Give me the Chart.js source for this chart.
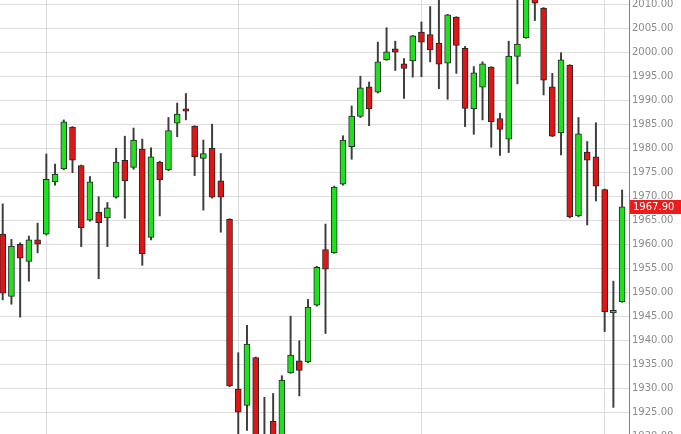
<!DOCTYPE html>
<html>
<head>
<meta charset="utf-8">
<script src="https://cdn.jsdelivr.net/npm/chart.js@4/dist/chart.umd.min.js"></script>
<style>
  html, body { margin: 0; padding: 0; background: #fff; }
  #wrap { width: 681px; height: 434px; }
</style>
</head>
<body>
<div id="wrap"><canvas id="myChart" width="681" height="434"></canvas></div>
<script>
// daily candles, left to right
var opens  = [1962.2, 1949.2, 1960.1, 1956.5, 1961.0, 1962.2, 1973.1, 1975.8, 1984.5, 1976.5,
              1965.1, 1966.8, 1965.6, 1969.9, 1977.6, 1976.1, 1979.9, 1961.5, 1977.2, 1975.6,
              1985.3, 1988.3, 1984.7, 1978.0, 1980.1, 1973.3, 1965.3, 1929.9, 1926.5, 1936.5,
              1918.5, 1923.2, 1918.0, 1933.3, 1935.8, 1935.6, 1947.4, 1959.0, 1958.3, 1972.6,
              1980.4, 1986.7, 1992.9, 1991.8, 1998.5, 2000.8, 1997.7, 1998.3, 2004.3, 2003.8,
              2002.0, 1997.8, 2007.4, 2000.9, 1988.3, 1992.8, 1997.0, 1986.3, 1982.0, 1999.2,
              2003.1, 2012.0, 2009.3, 1992.9, 1983.3, 1997.4, 1966.0, 1979.3, 1978.3, 1971.5,
              1945.8, 1948.1];
var highs  = [1968.5, 1961.1, 1960.4, 1961.8, 1964.5, 1978.9, 1976.8, 1986.0, 1984.6, 1976.6,
              1974.2, 1970.0, 1968.8, 1980.1, 1982.6, 1984.3, 1982.0, 1980.2, 1977.4, 1986.5,
              1989.5, 1991.5, 1984.8, 1981.8, 1985.1, 1979.0, 1965.4, 1937.5, 1943.2, 1936.6,
              1928.2, 1929.0, 1932.7, 1945.1, 1940.0, 1948.6, 1955.5, 1964.3, 1972.2, 1982.7,
              1988.9, 1995.1, 1993.9, 2002.2, 2005.2, 2002.4, 1998.8, 2003.6, 2006.4, 2009.6,
              2012.0, 2008.0, 2007.5, 2001.3, 1997.1, 1998.1, 1997.1, 1987.4, 2002.4, 2011.5,
              2014.0, 2013.0, 2009.4, 1995.7, 2000.0, 1997.5, 1986.5, 1981.5, 1985.4, 1971.6,
              1952.4, 1971.4];
var lows   = [1948.5, 1947.6, 1944.9, 1952.4, 1958.3, 1962.0, 1972.4, 1975.6, 1975.0, 1959.6,
              1964.9, 1952.9, 1959.6, 1969.7, 1965.5, 1975.7, 1955.7, 1961.0, 1966.0, 1975.4,
              1982.5, 1986.0, 1974.4, 1967.2, 1969.7, 1962.6, 1930.4, 1918.0, 1921.3, 1915.0,
              1914.0, 1916.0, 1916.0, 1933.2, 1928.5, 1935.4, 1947.2, 1941.5, 1958.2, 1972.4,
              1977.8, 1986.5, 1984.8, 1991.6, 1998.4, 1996.3, 1990.5, 1994.9, 1995.0, 1998.1,
              1992.5, 1990.3, 1995.7, 1984.6, 1983.0, 1986.0, 1980.3, 1978.6, 1979.2, 1993.5,
              2003.0, 2006.7, 1991.2, 1982.5, 1978.7, 1965.6, 1965.8, 1964.1, 1969.1, 1941.9,
              1926.1, 1948.0];
var closes = [1949.9, 1959.7, 1957.2, 1961.0, 1960.1, 1973.6, 1974.7, 1985.6, 1977.6, 1963.5,
              1973.1, 1964.6, 1967.7, 1977.2, 1973.3, 1981.8, 1958.1, 1978.3, 1973.5, 1983.8,
              1987.2, 1987.8, 1978.3, 1979.0, 1969.9, 1969.9, 1930.6, 1925.1, 1939.3, 1918.0,
              1916.0, 1918.0, 1931.8, 1937.0, 1933.8, 1947.0, 1955.3, 1954.9, 1972.0, 1981.8,
              1986.8, 1992.7, 1988.3, 1998.1, 2000.2, 2000.1, 1996.7, 2003.5, 2002.2, 2000.6,
              1997.6, 2007.9, 2001.5, 1988.4, 1995.8, 1997.7, 1985.6, 1984.0, 1999.3, 2001.8,
              2013.0, 2010.3, 1994.3, 1982.6, 1998.5, 1965.8, 1983.1, 1977.6, 1972.2, 1946.0,
              1946.3, 1967.9];

// candle index where a new month starts (vertical grid lines)
var monthStarts = [5, 27, 48, 69];
var priceTicks = [2010, 2005, 2000, 1995, 1990, 1985, 1980, 1975, 1970, 1965, 1960,
                  1955, 1950, 1945, 1940, 1935, 1930, 1925, 1920];

var upColor = '#20e020';
var downColor = '#e01616';

var bodyData = opens.map(function (o, i) { return { x: i, y: [o, closes[i]] }; });
var wickData = lows.map(function (l, i) { return { x: i, y: [l, highs[i]] }; });
var candleColors = opens.map(function (o, i) { return closes[i] >= o ? upColor : downColor; });

var lastPrice = closes[closes.length - 1];

var priceTag = {
    id: 'priceTag',
    afterDraw: function (chart) {
        var c = chart.ctx;
        var y = chart.scales.y.getPixelForValue(lastPrice);
        var left = chart.chartArea.right + 1;
        c.save();
        c.fillStyle = '#ee1b1b';
        c.fillRect(left, Math.round(y) - 7, 52, 14);
        c.fillStyle = '#fff';
        c.font = '10px "DejaVu Sans"';
        c.textBaseline = 'middle';
        c.textAlign = 'left';
        c.fillText(lastPrice.toFixed(2), left + 3, Math.round(y));
        c.restore();
    }
};

var ctx = document.getElementById('myChart').getContext('2d');
var chart = new Chart(ctx, {
    type: 'bar',
    data: {
        datasets: [{
            // candle bodies
            data: bodyData,
            backgroundColor: candleColors,
            borderColor: '#262626',
            borderWidth: 1,
            borderSkipped: false,
            barThickness: 6,
            minBarLength: 2,
            grouped: false,
            order: 0
        }, {
            // wicks
            data: wickData,
            backgroundColor: '#3c3c3c',
            borderWidth: 0,
            barThickness: 1.3,
            grouped: false,
            order: 1
        }]
    },
    options: {
        responsive: false,
        animation: false,
        devicePixelRatio: 1,
        layout: { padding: 0 },
        plugins: { legend: { display: false }, tooltip: { enabled: false } },
        scales: {
            x: {
                type: 'linear',
                offset: false,
                min: -0.31,
                max: 71.79,
                afterBuildTicks: function (scale) {
                    scale.ticks = monthStarts.map(function (v) { return { value: v }; });
                },
                afterFit: function (scale) { scale.height = 0; },
                ticks: { display: false },
                grid: { color: '#dcdcdc', drawTicks: false, offset: false },
                border: { display: false }
            },
            y: {
                position: 'right',
                min: 1920.56,
                max: 2010.98,
                afterBuildTicks: function (scale) {
                    scale.ticks = priceTicks.map(function (v) { return { value: v }; });
                },
                afterFit: function (scale) {
                    scale.width = 52;
                    scale.paddingTop = 0;
                    scale.paddingBottom = 0;
                },
                ticks: {
                    color: '#8c8c8c',
                    padding: 3,
                    font: { family: 'DejaVu Sans', size: 10 },
                    callback: function (v) { return Number(v).toFixed(2); }
                },
                grid: { color: '#dcdcdc', drawTicks: false },
                border: { display: true, color: '#808080' }
            }
        }
    },
    plugins: [priceTag]
});
</script>
</body>
</html>
